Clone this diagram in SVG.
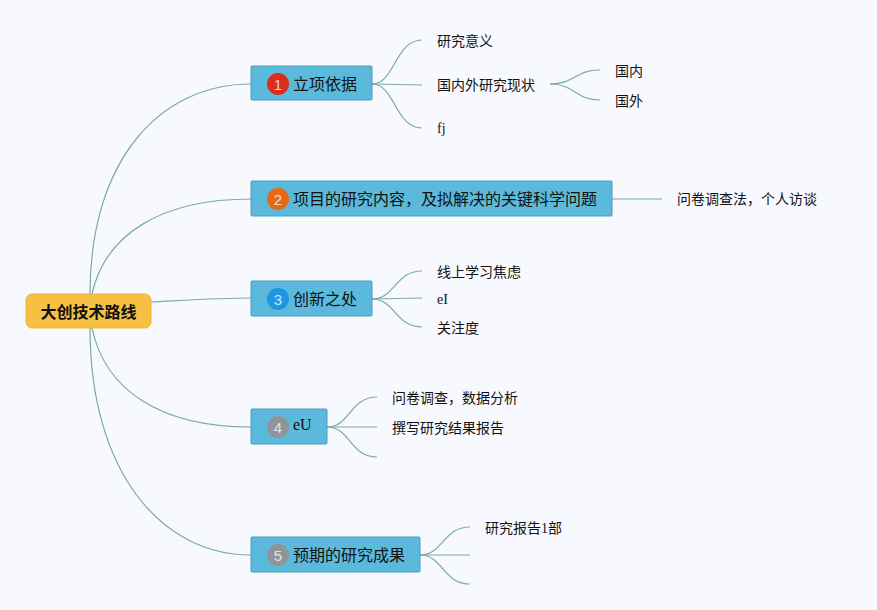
<svg xmlns="http://www.w3.org/2000/svg" width="877" height="610" viewBox="0 0 877 610">
<style>
.bg{fill:#F8F9FE}
.root{fill:#F5C043;stroke:#EDB53A;stroke-width:1}
.rt{font-family:"Noto Sans CJK SC",sans-serif;font-size:16px;font-weight:bold;fill:#111}
.node{fill:#5BBADB;stroke:#4A9CBB;stroke-width:1}
.nt{font-family:"Liberation Serif","Noto Sans CJK SC",serif;font-size:16px;fill:#111}
.lt{font-family:"Liberation Serif","Noto Sans CJK SC",serif;font-size:14px;fill:#111}
.bn{font-family:"Liberation Sans",sans-serif;font-size:15px;fill:#fff;opacity:0.75;text-anchor:middle}
.c{fill:none;stroke:#78ABA6;stroke-width:1.2}
</style>
<rect class="bg" x="0" y="0" width="877" height="610"/>
<g id="connectors">
<path class="c" d="M90 294 C90 160 160 84 251 84"/>
<path class="c" d="M92 294 C105 235 160 199 251 199"/>
<path class="c" d="M151 302 C190 300 220 298 251 298"/>
<path class="c" d="M92 328 C105 390 160 427 251 427"/>
<path class="c" d="M90 328 C90 470 160 555 251 555"/>
<path class="c" d="M372 84 C395 84 395 40 422 40"/>
<path class="c" d="M372 84 L422 85"/>
<path class="c" d="M372 84 C395 84 395 128 422 128"/>
<path class="c" d="M550 84 C575 84 575 70 600 70"/>
<path class="c" d="M550 84 C575 84 575 100 600 100"/>
<path class="c" d="M612 199 L662 199"/>
<path class="c" d="M372 299 C395 299 395 271 422 271"/>
<path class="c" d="M372 299 L422 298"/>
<path class="c" d="M372 299 C395 299 395 327 422 327"/>
<path class="c" d="M327 427 C350 427 350 397 377 397"/>
<path class="c" d="M327 427 L377 427"/>
<path class="c" d="M327 427 C350 427 350 457 377 457"/>
<path class="c" d="M420 555 C443 555 443 527 470 527"/>
<path class="c" d="M420 555 L470 555"/>
<path class="c" d="M420 555 C443 555 443 584 470 584"/>
</g>
<g id="root">
<rect class="root" x="26" y="294" width="125" height="34" rx="6"/>
<text class="rt" x="88.5" y="317.5" text-anchor="middle">大创技术路线</text>
</g>
<g id="n1">
<rect class="node" x="251" y="66" width="121" height="34" rx="1"/>
<circle cx="278" cy="84" r="11" fill="#DA2D1C"/>
<text class="bn" x="278" y="89.5">1</text>
<text class="nt" x="293" y="90">立项依据</text>
</g>
<g id="n2">
<rect class="node" x="251" y="181" width="361" height="35" rx="1"/>
<circle cx="278" cy="199" r="11" fill="#E56A16"/>
<text class="bn" x="278" y="204.5">2</text>
<text class="nt" x="293" y="205">项目的研究内容，及拟解决的关键科学问题</text>
</g>
<g id="n3">
<rect class="node" x="251" y="281" width="121" height="35" rx="1"/>
<circle cx="278" cy="299" r="11" fill="#1E97E2"/>
<text class="bn" x="278" y="304.5">3</text>
<text class="nt" x="293" y="305">创新之处</text>
</g>
<g id="n4">
<rect class="node" x="251" y="409" width="76" height="35" rx="1"/>
<circle cx="278" cy="427" r="11" fill="#8E9596"/>
<text class="bn" x="278" y="432.5">4</text>
<text class="nt" x="293" y="430">eU</text>
</g>
<g id="n5">
<rect class="node" x="251" y="537" width="169" height="35" rx="1"/>
<circle cx="278" cy="555" r="11" fill="#8E9596"/>
<text class="bn" x="278" y="560.5">5</text>
<text class="nt" x="293" y="561">预期的研究成果</text>
</g>
<g id="leaves">
<text class="lt" x="437" y="46">研究意义</text>
<text class="lt" x="437" y="90">国内外研究现状</text>
<text class="lt" x="437" y="133">fj</text>
<text class="lt" x="615" y="76">国内</text>
<text class="lt" x="615" y="106">国外</text>
<text class="lt" x="677" y="204">问卷调查法，个人访谈</text>
<text class="lt" x="437" y="277">线上学习焦虑</text>
<text class="lt" x="437" y="304">eI</text>
<text class="lt" x="437" y="333">关注度</text>
<text class="lt" x="392" y="403">问卷调查，数据分析</text>
<text class="lt" x="392" y="433">撰写研究结果报告</text>
<text class="lt" x="485" y="533">研究报告1部</text>
</g>
</svg>
